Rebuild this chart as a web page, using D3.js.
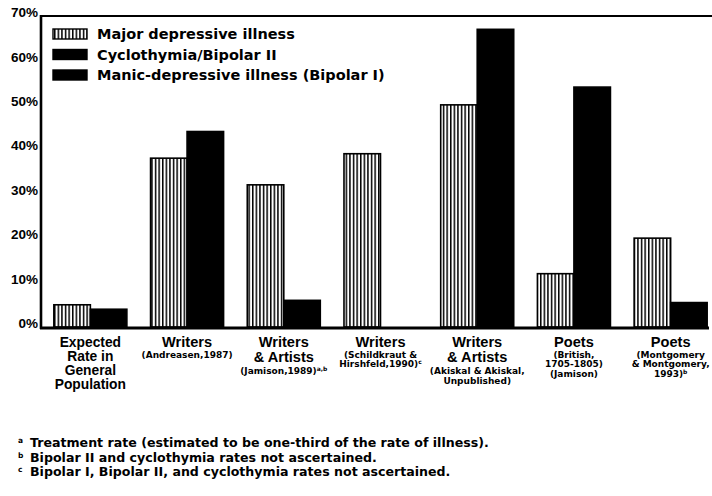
<!DOCTYPE html>
<html>
<head>
<meta charset="utf-8">
<script src="https://cdn.jsdelivr.net/npm/d3@7"></script>
<style>
  html, body { margin: 0; padding: 0; background: #fff; }
  svg { display: block; font-family: "Liberation Sans", Arial, sans-serif; font-weight: bold; }
  .wide { font-family: "DejaVu Sans", sans-serif; font-weight: bold; }
</style>
</head>
<body>
<svg id="chart" width="712" height="496"></svg>
<script>
// ---- data ----
const categories = ["Expected", "Writers A", "Writers & Artists J", "Writers S", "Writers & Artists AA", "Poets B", "Poets M"];
const majorDepressive = [5, 38, 32, 39, 50, 12, 20];
const bipolar = [4, 44, 6, null, 67, 54, 5.5];
const catMain = [
  ["Expected", "Rate in", "General", "Population"],
  ["Writers"],
  ["Writers", "& Artists"],
  ["Writers"],
  ["Writers", "& Artists"],
  ["Poets"],
  ["Poets"]
];
const catSub = [
  [],
  [["(Andreasen,1987)", ""]],
  [["(Jamison,1989)", "a,b"]],
  [["(Schildkraut &", ""], ["Hirshfeld,1990)", "c"]],
  [["(Akiskal & Akiskal,", ""], ["Unpublished)", ""]],
  [["(British,", ""], ["1705-1805)", ""], ["(Jamison)", ""]],
  [["(Montgomery", ""], ["& Montgomery,", ""], ["1993)", "b"]]
];
const legendLabels = ["Major depressive illness", "Cyclothymia/Bipolar II", "Manic-depressive illness (Bipolar I)"];
const legendFills = ["stripes", "black", "black"];
const yTicks = [0, 10, 20, 30, 40, 50, 60, 70];
const footnoteMarks = ["a", "b", "c"];
const footnotes = [
  "Treatment rate (estimated to be one-third of the rate of illness).",
  "Bipolar II and cyclothymia rates not ascertained.",
  "Bipolar I, Bipolar II, and cyclothymia rates not ascertained."
];

// ---- drawing ----
const svg = d3.select("#chart");
const defs = svg.append("defs");
const pat = defs.append("pattern").attr("id", "stripes")
  .attr("patternUnits", "userSpaceOnUse").attr("width", 3.6).attr("height", 10);
pat.append("rect").attr("width", 3.6).attr("height", 10).attr("fill", "#fff");
pat.append("rect").attr("x", 0).attr("width", 1.5).attr("height", 10).attr("fill", "#000");

const y = d3.scaleLinear().domain([0, 70]).range([327, 16]);
const x = d3.scaleBand().domain(categories).range([42, 719]).paddingInner(0.245).paddingOuter(0.1225);
const xs = d3.scaleBand().domain([0, 1]).range([0, x.bandwidth()]);

// y axis labels
const yAxis = d3.axisLeft(y).tickValues(yTicks).tickFormat(d => d + "%").tickSize(0).tickPadding(3);
const ga = svg.append("g").attr("transform", "translate(41,0)").call(yAxis);
ga.select(".domain").remove();
ga.selectAll("text").attr("font-size", 13.5).attr("font-weight", "bold")
  .attr("font-family", "Liberation Sans, Arial, sans-serif").attr("fill", "#000").attr("dy", "0.05em");

// bars
const g = svg.append("g");
categories.forEach((c, i) => {
  const vals = [majorDepressive[i], bipolar[i]];
  vals.forEach((v, j) => {
    if (v == null) return;
    g.append("rect")
      .attr("x", x(c) + xs(j))
      .attr("y", y(v))
      .attr("width", xs.bandwidth())
      .attr("height", y(0) - y(v))
      .attr("fill", j === 0 ? "url(#stripes)" : "#000")
      .attr("stroke", "#000").attr("stroke-width", 1.6);
  });
});

// frame lines
svg.append("line").attr("x1", 41).attr("x2", 41).attr("y1", 15).attr("y2", 329).attr("stroke", "#000").attr("stroke-width", 2.6);
svg.append("line").attr("x1", 40).attr("x2", 712).attr("y1", y(70)).attr("y2", y(70)).attr("stroke", "#000").attr("stroke-width", 2.2);
svg.append("line").attr("x1", 40).attr("x2", 709).attr("y1", 328).attr("y2", 328).attr("stroke", "#000").attr("stroke-width", 3);

// legend
const lg = svg.append("g");
legendLabels.forEach((l, i) => {
  const yy = 29 + i * 20.5;
  lg.append("rect").attr("x", 53).attr("y", yy).attr("width", 34).attr("height", 10)
    .attr("fill", legendFills[i] === "stripes" ? "url(#stripes)" : "#000")
    .attr("stroke", "#000").attr("stroke-width", 1.4);
  lg.append("text").attr("class", "wide").attr("x", 97).attr("y", yy + 10).attr("font-size", 14.5).text(l);
});

// category labels
categories.forEach((c, i) => {
  const cx = x(c) + x.bandwidth() / 2;
  let base = 347;
  const n = catMain[i].length;
  const multi = n > 2;
  catMain[i].forEach((line, k) => {
    if (k > 0) base += (n === 2 ? 15 : 14);
    svg.append("text").attr("x", cx).attr("y", base).attr("text-anchor", "middle")
      .attr("font-size", multi ? 13.8 : 14.6).text(line);
  });
  catSub[i].forEach((pair, k) => {
    base += (k === 0 ? (n > 1 ? 12 : 10.5) : 9.6);
    const t = svg.append("text").attr("class", "wide").attr("x", cx).attr("y", base).attr("text-anchor", "middle")
      .attr("font-size", 9.0);
    t.append("tspan").text(pair[0]);
    if (pair[1]) t.append("tspan").attr("font-size", 6).attr("dy", -3).text(pair[1]);
  });
});

// footnotes
footnotes.forEach((f, i) => {
  const yy = 447 + i * 14.5;
  svg.append("text").attr("class", "wide").attr("x", 18).attr("y", yy - 4).attr("font-size", 7.5).text(footnoteMarks[i]);
  svg.append("text").attr("class", "wide").attr("x", 30).attr("y", yy).attr("font-size", 12.6).text(f);
});
</script>
</body>
</html>
